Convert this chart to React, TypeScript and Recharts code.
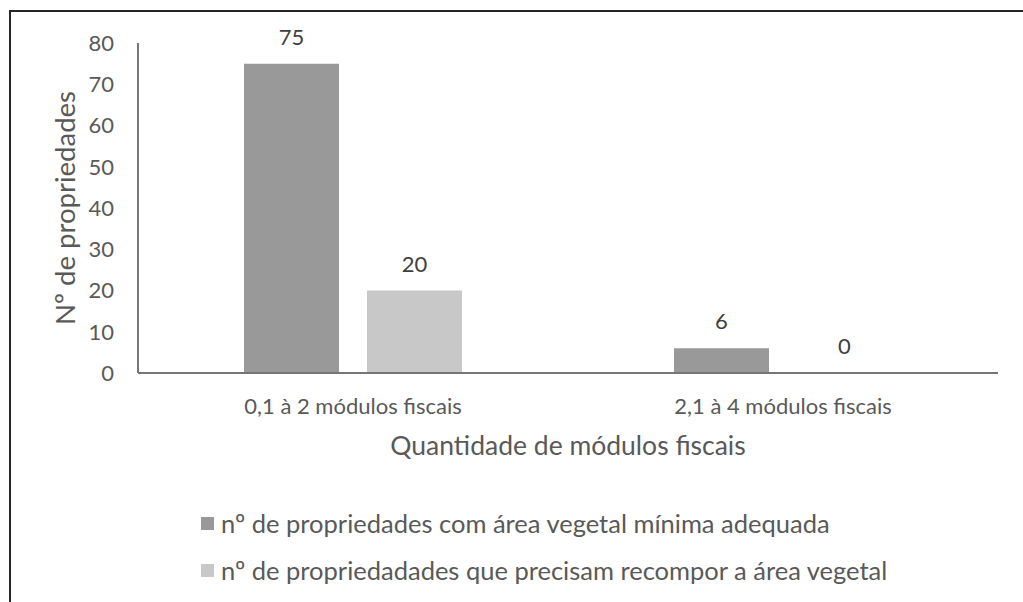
import React from 'react';
import { BarChart, Bar, XAxis, YAxis, Legend, LabelList } from 'recharts';

const categories = ['0,1 à 2 módulos fiscais', '2,1 à 4 módulos fiscais'];
const adequadaValues = [75, 6];
const recomporValues = [20, 0];
const yTicks = [0, 10, 20, 30, 40, 50, 60, 70, 80];
const seriesNames = [
  'nº de propriedades com área vegetal mínima adequada',
  'nº de propriedadades que precisam recompor a área vegetal',
];
const seriesColors = ['#999999', '#C8C8C8'];

const data = categories.map((c, i) => ({
  category: c,
  adequada: adequadaValues[i],
  recompor: recomporValues[i],
}));

const FONT = 'Lato, "Open Sans", sans-serif';
const TEXT = '#595959';

const LegendContent = (props: any) => {
  const payload = [...(props.payload || [])].sort(
    (a: any, b: any) => seriesNames.indexOf(a.value) - seriesNames.indexOf(b.value)
  );
  return (
    <div style={{ fontFamily: FONT, fontSize: 25.5, color: TEXT, whiteSpace: 'nowrap' }}>
      {payload.map((p: any, i: number) => (
        <div key={i} style={{ display: 'flex', alignItems: 'center', height: 30, marginBottom: i === 0 ? 17 : 0 }}>
          <span style={{ display: 'inline-block', width: 13, height: 13, background: p.color, marginRight: 7 }} />
          <span>{p.value}</span>
        </div>
      ))}
    </div>
  );
};

export default function App() {
  return (
    <div style={{ position: 'absolute', left: 0, top: 0, width: 1023, height: 602, background: '#fff' }}>
      <div
        style={{
          position: 'absolute',
          left: 9,
          top: 10,
          width: 1014,
          height: 592,
          borderTop: '2px solid #262626',
          borderLeft: '2px solid #262626',
          boxSizing: 'border-box',
        }}
      />
      <div style={{ position: 'absolute', left: 0, top: 0 }}>
        <BarChart
          width={1023}
          height={602}
          data={data}
          margin={{ top: 43, right: 25, left: 40, bottom: 149 }}
          barCategoryGap={106}
          barGap={28}
        >
          <XAxis
            dataKey="category"
            height={80}
            axisLine={{ stroke: '#767676', strokeWidth: 2 }}
            tickLine={false}
            tickSize={0}
            tickMargin={25}
            tick={{ fill: TEXT, fontSize: 22, fontFamily: FONT }}
            label={{
              value: 'Quantidade de módulos fiscais',
              position: 'insideTop',
              offset: 63,
              fill: TEXT,
              fontSize: 26.5,
              fontFamily: FONT,
            }}
          />
          <YAxis
            width={98}
            domain={[0, 80]}
            ticks={yTicks}
            interval={0}
            axisLine={{ stroke: '#767676', strokeWidth: 2 }}
            tickLine={false}
            tickSize={0}
            tickMargin={24}
            tick={{ fill: TEXT, fontSize: 22, fontFamily: FONT }}
            label={{
              value: 'Nº de propriedades',
              angle: -90,
              position: 'insideLeft',
              offset: 25,
              fill: TEXT,
              fontSize: 27.5,
              fontFamily: FONT,
              style: { textAnchor: 'middle' },
            }}
          />
          <Legend
            layout="vertical"
            align="center"
            verticalAlign="middle"
            wrapperStyle={{ top: 508, left: 201, width: 'auto' }}
            content={<LegendContent />}
          />
          <Bar dataKey="adequada" name={seriesNames[0]} fill={seriesColors[0]} isAnimationActive={false}>
            <LabelList dataKey="adequada" position="top" offset={19} fill="#404040" fontSize={22} fontFamily={FONT} />
          </Bar>
          <Bar
            dataKey="recompor"
            name={seriesNames[1]}
            fill={seriesColors[1]}
            minPointSize={0.1}
            isAnimationActive={false}
          >
            <LabelList dataKey="recompor" position="top" offset={19} fill="#404040" fontSize={22} fontFamily={FONT} />
          </Bar>
        </BarChart>
      </div>
    </div>
  );
}
